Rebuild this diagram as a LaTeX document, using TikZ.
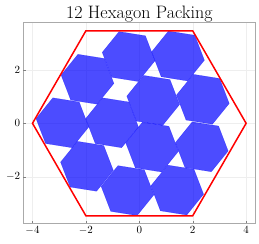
\documentclass[tikz,border=0pt]{standalone}
\usepackage{tikz}
\usepackage{xcolor}
\usetikzlibrary{positioning}

\definecolor{hxFill}{RGB}{0,0,255}
\definecolor{hxFrame}{RGB}{170,170,170}
\definecolor{hxGrid}{RGB}{238,238,238}

\tikzset{
  hexcell/.style={fill=hxFill, fill opacity=0.7, draw=hxFill, draw opacity=0.5, line width=0.3pt},
  ticklab/.style={inner sep=1pt, font=\fontsize{11}{13}\selectfont}
}

\begin{document}
\begin{tikzpicture}[x=26.7pt, y=26.7pt]
    \useasboundingbox (-5.217,-4.483) rectangle (4.483,4.618);

    % grid and axes frame
    \foreach \gx in {-4,-2,0,2,4}
        \draw[hxGrid, line width=0.4pt] (\gx,-3.75) -- (\gx,3.77);
    \foreach \gy in {-2,0,2}
        \draw[hxGrid, line width=0.4pt] (-4.34,\gy) -- (4.33,\gy);
    \draw[hxFrame, line width=0.8pt] (-4.34,-3.75) rectangle (4.33,3.77);
    \foreach \gx in {-4,-2,0,2,4}
        \draw[gray, line width=0.4pt] (\gx,-3.75) -- (\gx,-3.66);
    \foreach \gy in {-2,0,2}
        \draw[gray, line width=0.4pt] (-4.34,\gy) -- (-4.25,\gy);

    % tick labels
    \node[ticklab, below] (xm4) at (-4,-3.82) {$-4$};
    \node[ticklab, below] (xm2) at (-2,-3.82) {$-2$};
    \node[ticklab, below] (x0) at (0,-3.82) {$0$};
    \node[ticklab, below] (x2) at (2,-3.82) {$2$};
    \node[ticklab, below] (x4) at (4,-3.82) {$4$};
    \node[ticklab, left] (ym2) at (-4.42,-2) {$-2$};
    \node[ticklab, left] (y0) at (-4.42,0) {$0$};
    \node[ticklab, left] (y2) at (-4.42,2) {$2$};

    % unit hexagons, all turned by -9 degrees
    \foreach \cx/\cy in {-0.40/2.50, 1.45/2.52, -1.94/1.65, 0.52/0.86,
                         2.38/0.90, -2.88/0.02, -1.02/0.02, 0.48/-0.89,
                         2.34/-0.88, -1.96/-1.61, -0.44/-2.52, 1.42/-2.50}
        \draw[hexcell, shift={(\cx,\cy)}, rotate=-9]
            (0:1) -- (60:1) -- (120:1) -- (180:1) -- (240:1) -- (300:1) -- cycle;

    % container hexagon
    \draw[red, line width=1.5pt, line join=miter]
        (0:4) -- (60:4) -- (120:4) -- (180:4) -- (240:4) -- (300:4) -- cycle;

    \node[font=\fontsize{18}{21}\selectfont, anchor=base] (title) at (0,3.93) {12 Hexagon Packing};
\end{tikzpicture}
\end{document}
